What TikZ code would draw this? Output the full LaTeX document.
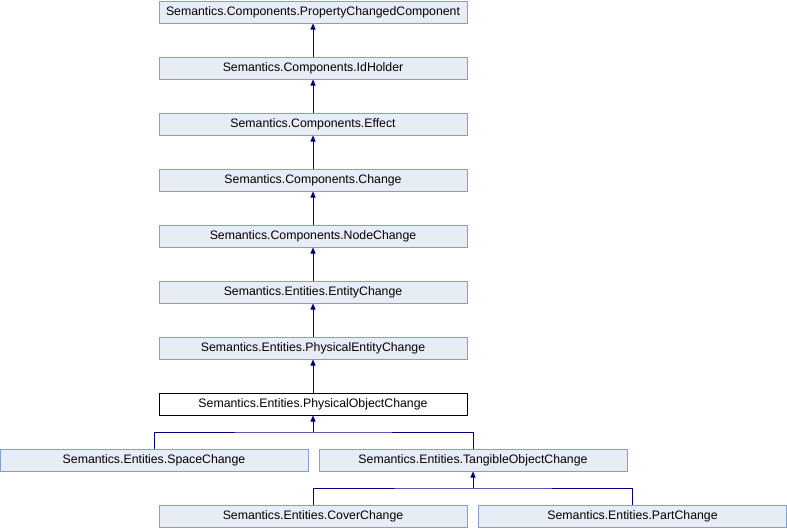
\documentclass[tikz,border=0pt]{standalone}
\usepackage{fontspec}
\setmainfont{Liberation Sans}
\usetikzlibrary{arrows.meta}
\definecolor{boxfill}{HTML}{E8ECF4}
\definecolor{boxline}{HTML}{84A0D0}
\definecolor{edgecol}{HTML}{000080}
\begin{document}
\begin{tikzpicture}[x=1pt,y=-1pt,
  cls/.style={draw=boxline,fill=boxfill,line width=1pt,minimum width=308pt,minimum height=22pt,inner sep=0pt,font=\fontsize{12.3pt}{14pt}\selectfont},
  cur/.style={cls,draw=black,fill=white},
  inh/.style={draw=edgecol,line width=1pt,-{Triangle[width=5pt,length=6pt]}},
  ]
\useasboundingbox (0,0) rectangle (787,528);
\node[cls] (a) at (313,12) {Semantics.Components.PropertyChangedComponent};
\node[cls] (b) at (313,68) {Semantics.Components.IdHolder};
\node[cls] (c) at (313,124) {Semantics.Components.Effect};
\node[cls] (d) at (313,180) {Semantics.Components.Change};
\node[cls] (e) at (313,236) {Semantics.Components.NodeChange};
\node[cls] (f) at (313,292) {Semantics.Entities.EntityChange};
\node[cls] (g) at (313,348) {Semantics.Entities.PhysicalEntityChange};
\node[cur] (h) at (313,404) {Semantics.Entities.PhysicalObjectChange};
\node[cls] (s) at (154,460) {Semantics.Entities.SpaceChange};
\node[cls] (t) at (473,460) {Semantics.Entities.TangibleObjectChange};
\node[cls] (cv) at (313,516) {Semantics.Entities.CoverChange};
\node[cls] (p) at (632.5,516) {Semantics.Entities.PartChange};
\coordinate (bus1) at (313,432);
\coordinate (bus2) at (473,488);
\draw[inh] (b.north) -- (a.south);
\draw[inh] (c.north) -- (b.south);
\draw[inh] (d.north) -- (c.south);
\draw[inh] (e.north) -- (d.south);
\draw[inh] (f.north) -- (e.south);
\draw[inh] (g.north) -- (f.south);
\draw[inh] (h.north) -- (g.south);
\draw[edgecol,line width=1pt] (s.north) |- (bus1) -| (t.north);
\draw[inh] (bus1) -- (h.south);
\draw[edgecol,line width=1pt] (cv.north) |- (bus2) -| (p.north);
\draw[inh] (bus2) -- (t.south);
\end{tikzpicture}
\end{document}
